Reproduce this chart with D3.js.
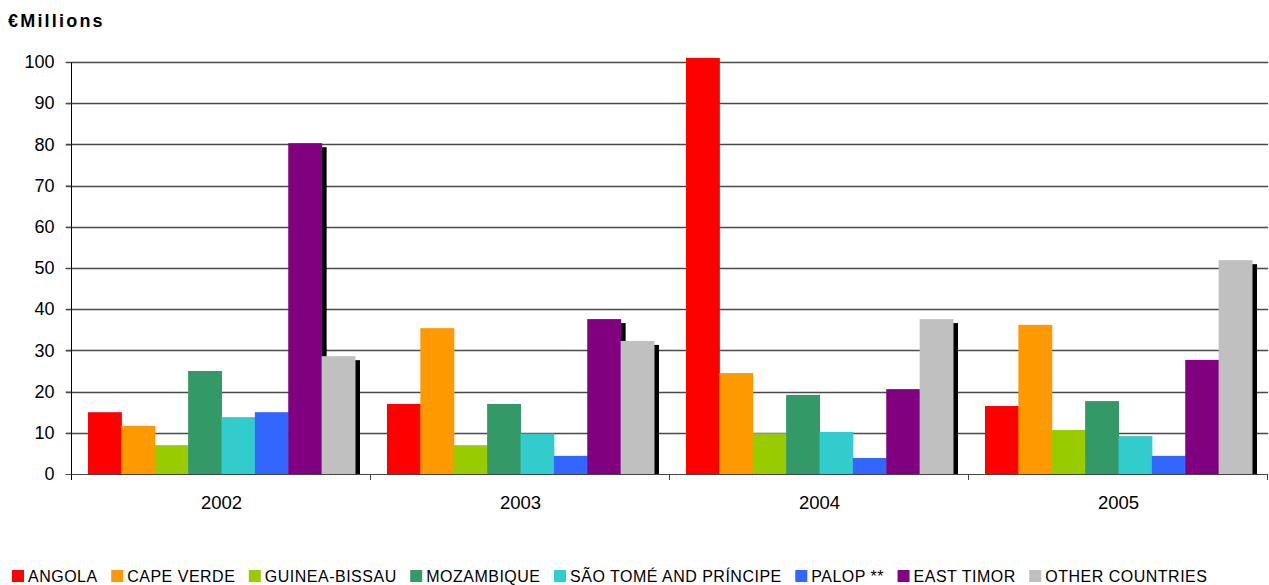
<!DOCTYPE html>
<html>
<head>
<meta charset="utf-8">
<script src="https://cdn.jsdelivr.net/npm/d3@7"></script>
<style>
  html, body { margin: 0; padding: 0; background: #fff; }
  svg { display: block; font-family: "Liberation Sans", Arial, sans-serif; }
</style>
</head>
<body>
<svg id="chart" width="1269" height="585"></svg>
<script>
// Cooperation funding by recipient, € millions
const years = ["2002", "2003", "2004", "2005"];
const countries = ["ANGOLA", "CAPE VERDE", "GUINEA-BISSAU", "MOZAMBIQUE",
                   "SÃO TOMÉ AND PRÍNCIPE", "PALOP **", "EAST TIMOR", "OTHER COUNTRIES"];
const colors = ["#FF0000", "#FF9900", "#99CC00", "#339966",
                "#33CCCC", "#3366FF", "#800080", "#C0C0C0"];

const angola     = [15.0, 17.0, 101.0, 16.5];
const capeVerde  = [11.7, 35.4, 24.5, 36.2];
const guinea     = [7.0, 7.0, 9.9, 10.7];
const mozambique = [25.0, 17.0, 19.2, 17.7];
const saoTome    = [13.8, 9.8, 10.2, 9.2];
const palop      = [15.0, 4.4, 3.9, 4.4];
const eastTimor  = [80.3, 37.6, 20.6, 27.7];
const others     = [28.6, 32.3, 37.6, 51.9];
const seriesValues = [angola, capeVerde, guinea, mozambique, saoTome, palop, eastTimor, others];

const yTicks = [0, 10, 20, 30, 40, 50, 60, 70, 80, 90, 100];

const svg = d3.select("#chart");
const plotLeft = 72, plotRight = 1268, plotTop = 62, plotBottom = 474;

const x0 = d3.scaleBand().domain(years).range([plotLeft, plotRight])
  .paddingInner(0.107).paddingOuter(0.0535);
const x1 = d3.scaleBand().domain(d3.range(countries.length)).range([0, x0.bandwidth()]);
const y = d3.scaleLinear().domain([0, 100]).range([plotBottom, plotTop]);

// horizontal gridlines
svg.append("g")
  .selectAll("line").data(yTicks.filter(d => d > 0)).join("line")
  .attr("x1", plotLeft - 6).attr("x2", plotRight)
  .attr("y1", d => Math.round(y(d)) + 0.5).attr("y2", d => Math.round(y(d)) + 0.5)
  .attr("stroke", "#4a4a4a").attr("stroke-width", 1.3);

// y axis
const yAxis = svg.append("g")
  .attr("transform", `translate(${plotLeft - 0.5},0)`)
  .call(d3.axisLeft(y).tickValues(yTicks).tickSize(6).tickPadding(11).tickFormat(d3.format("d")));
yAxis.select(".domain").attr("d", `M0,${plotTop}V${plotBottom + 6}`).attr("stroke", "#000");
yAxis.selectAll(".tick line").attr("stroke", "#4a4a4a");
yAxis.selectAll(".tick text").attr("font-size", 18).attr("fill", "#000")
  .attr("font-family", "'Liberation Sans', Arial, sans-serif");

// x axis baseline with tick marks between categories
const xg = svg.append("g");
xg.append("line").attr("x1", plotLeft).attr("x2", plotRight)
  .attr("y1", plotBottom + 0.5).attr("y2", plotBottom + 0.5)
  .attr("stroke", "#444").attr("stroke-width", 1.2);
const step = x0.step();
xg.selectAll("line.tk").data(d3.range(1, years.length + 1)).join("line")
  .attr("class", "tk")
  .attr("x1", i => Math.round(plotLeft + i * step) - 0.5).attr("x2", i => Math.round(plotLeft + i * step) - 0.5)
  .attr("y1", plotBottom).attr("y2", plotBottom + 6)
  .attr("stroke", "#444");
xg.selectAll("text").data(years).join("text")
  .attr("x", d => x0(d) + x0.bandwidth() / 2)
  .attr("y", 509)
  .attr("text-anchor", "middle")
  .attr("font-size", 18.5)
  .text(d => d);

// bars; the last two series carry a dark drop shadow
const groups = svg.append("g").selectAll("g").data(years).join("g")
  .attr("transform", d => `translate(${x0(d)},0)`);

groups.each(function(yr, yi) {
  const g = d3.select(this);
  countries.forEach((c, ci) => {
    const v = seriesValues[ci][yi];
    if (ci >= 6) {
      g.append("rect")
        .attr("x", x1(ci) + x1.bandwidth())
        .attr("y", y(v) + 4)
        .attr("width", 5)
        .attr("height", plotBottom - y(v) - 4)
        .attr("fill", "#000");
    }
    g.append("rect")
      .attr("x", x1(ci))
      .attr("y", y(v))
      .attr("width", x1.bandwidth() + 0.5)
      .attr("height", plotBottom - y(v))
      .attr("fill", colors[ci]);
  });
});

// unit label
svg.append("text")
  .attr("x", 8).attr("y", 27)
  .attr("font-size", 18).attr("font-weight", "bold")
  .attr("letter-spacing", 2.2)
  .text("€Millions");

// legend
const legend = svg.append("g");
let lx = 12;
countries.forEach((c, i) => {
  legend.append("rect").attr("x", lx).attr("y", 570).attr("width", 12).attr("height", 12)
    .attr("fill", colors[i]);
  const t = legend.append("text").attr("x", lx + 16).attr("y", 582)
    .attr("font-size", 16).attr("letter-spacing", 0.5).text(c);
  lx += 16 + t.node().getComputedTextLength() + 13.5;
});
</script>
</body>
</html>
